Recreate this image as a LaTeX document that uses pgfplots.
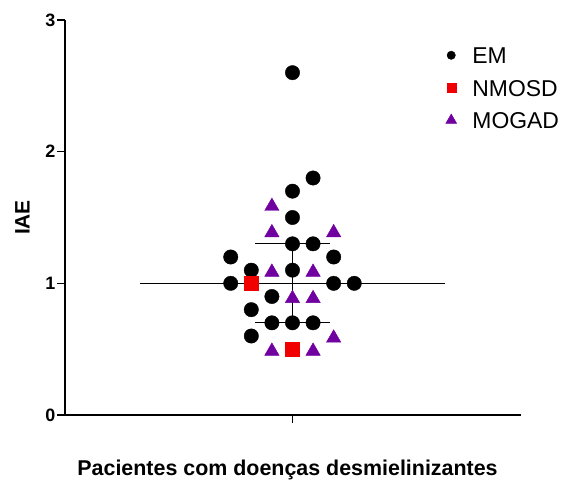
\documentclass[border=0pt]{standalone}
\usepackage{pgfplots}
\pgfplotsset{compat=1.18}
\usepackage{fontspec}
\setmainfont{Liberation Sans}
\definecolor{nmred}{RGB}{240,0,0}
\definecolor{mogpurple}{RGB}{112,0,160}
\newcommand{\tl}[1]{{\fontsize{18}{18}\selectfont\bfseries #1}}
\pgfplotstableread{
x y
0 2.6
1 1.8
0 1.7
0 1.5
0 1.3
1 1.3
-3 1.2
2 1.2
-2 1.1
0 1.1
-3 1.0
2 1.0
3 1.0
-1 0.9
-2 0.8
-1 0.7
0 0.7
1 0.7
-2 0.6
}\emdata
\pgfplotstableread{
x y
-2 1.0
0 0.5
}\nmosddata
\pgfplotstableread{
x y
-1 1.6
-1 1.4
2 1.4
-1 1.1
1 1.1
0 0.9
1 0.9
2 0.6
-1 0.5
1 0.5
}\mogaddata
\begin{document}
\begin{tikzpicture}
\path[use as bounding box] (-65bp,-65bp) rectangle (499bp,415bp);
\begin{axis}[
  at={(0,0)}, anchor=south west,
  scale only axis, width=456bp, height=395bp,
  xmin=-11.05, xmax=11.1, ymin=0, ymax=3,
  axis x line=bottom, axis y line=left,
  axis line style={-, black, line width=1.6bp},
  xtick={0}, xticklabels={},
  ytick={0,1,2,3},
  yticklabels={\tl{0},\tl{1},\tl{2},\tl{3}},
  tick align=outside,
  major tick length=8bp,
  tick style={black, line width=1.3bp},
  y tick label style={inner sep=1.5bp},
  xlabel={Pacientes com doenças desmielinizantes},
  xlabel style={font=\bfseries\fontsize{21.5}{21.5}\selectfont, at={(axis description cs:0.488,-0.1544)}, anchor=base},
  ylabel={IAE},
  ylabel style={font=\bfseries\fontsize{21}{21}\selectfont, at={(axis description cs:-0.0932,0.5)}, anchor=center},
  clip=false,
  legend cell align=left,
  legend image code/.code={\path (-8bp,0bp) (8bp,0bp); \draw[#1, only marks] plot coordinates {(0bp,0bp)};},
  legend style={draw=none, fill=none, at={(axis description cs:0.829,0.9316)}, anchor=north west,
    inner sep=0pt, outer sep=0pt, row sep=16bp,
    font=\fontsize{23}{23}\selectfont,
    nodes={inner sep=0pt, text height=16.5bp, text depth=0pt},
    /tikz/every odd column/.append style={column sep=13bp}},
]
\addplot[black, line width=1.2bp, forget plot] coordinates {(-7.4,1) (7.4,1)};
\addplot[black, line width=1.2bp, forget plot] coordinates {(0,0.7) (0,1.3)};
\addplot[black, line width=1.2bp, forget plot] coordinates {(-1.8,1.3) (1.8,1.3)};
\addplot[black, line width=1.2bp, forget plot] coordinates {(-1.8,0.7) (1.8,0.7)};
\addplot[only marks, mark=*, mark size=7.2bp, black, forget plot] table[x=x,y=y] {\emdata};
\addplot[only marks, mark=square*, mark size=7.2bp, color=nmred, forget plot] table[x=x,y=y] {\nmosddata};
\addplot[only marks, mark=triangle*, mark size=8.3bp, color=mogpurple, mark options={yshift=-2bp}, forget plot] table[x=x,y=y] {\mogaddata};
\addlegendimage{mark=*, mark size=4.2bp, black}
\addlegendentry{EM}
\addlegendimage{mark=square*, mark size=4.5bp, color=nmred}
\addlegendentry{NMOSD}
\addlegendimage{mark=triangle*, mark size=6.3bp, color=mogpurple}
\addlegendentry{MOGAD}
\end{axis}
\end{tikzpicture}
\end{document}
